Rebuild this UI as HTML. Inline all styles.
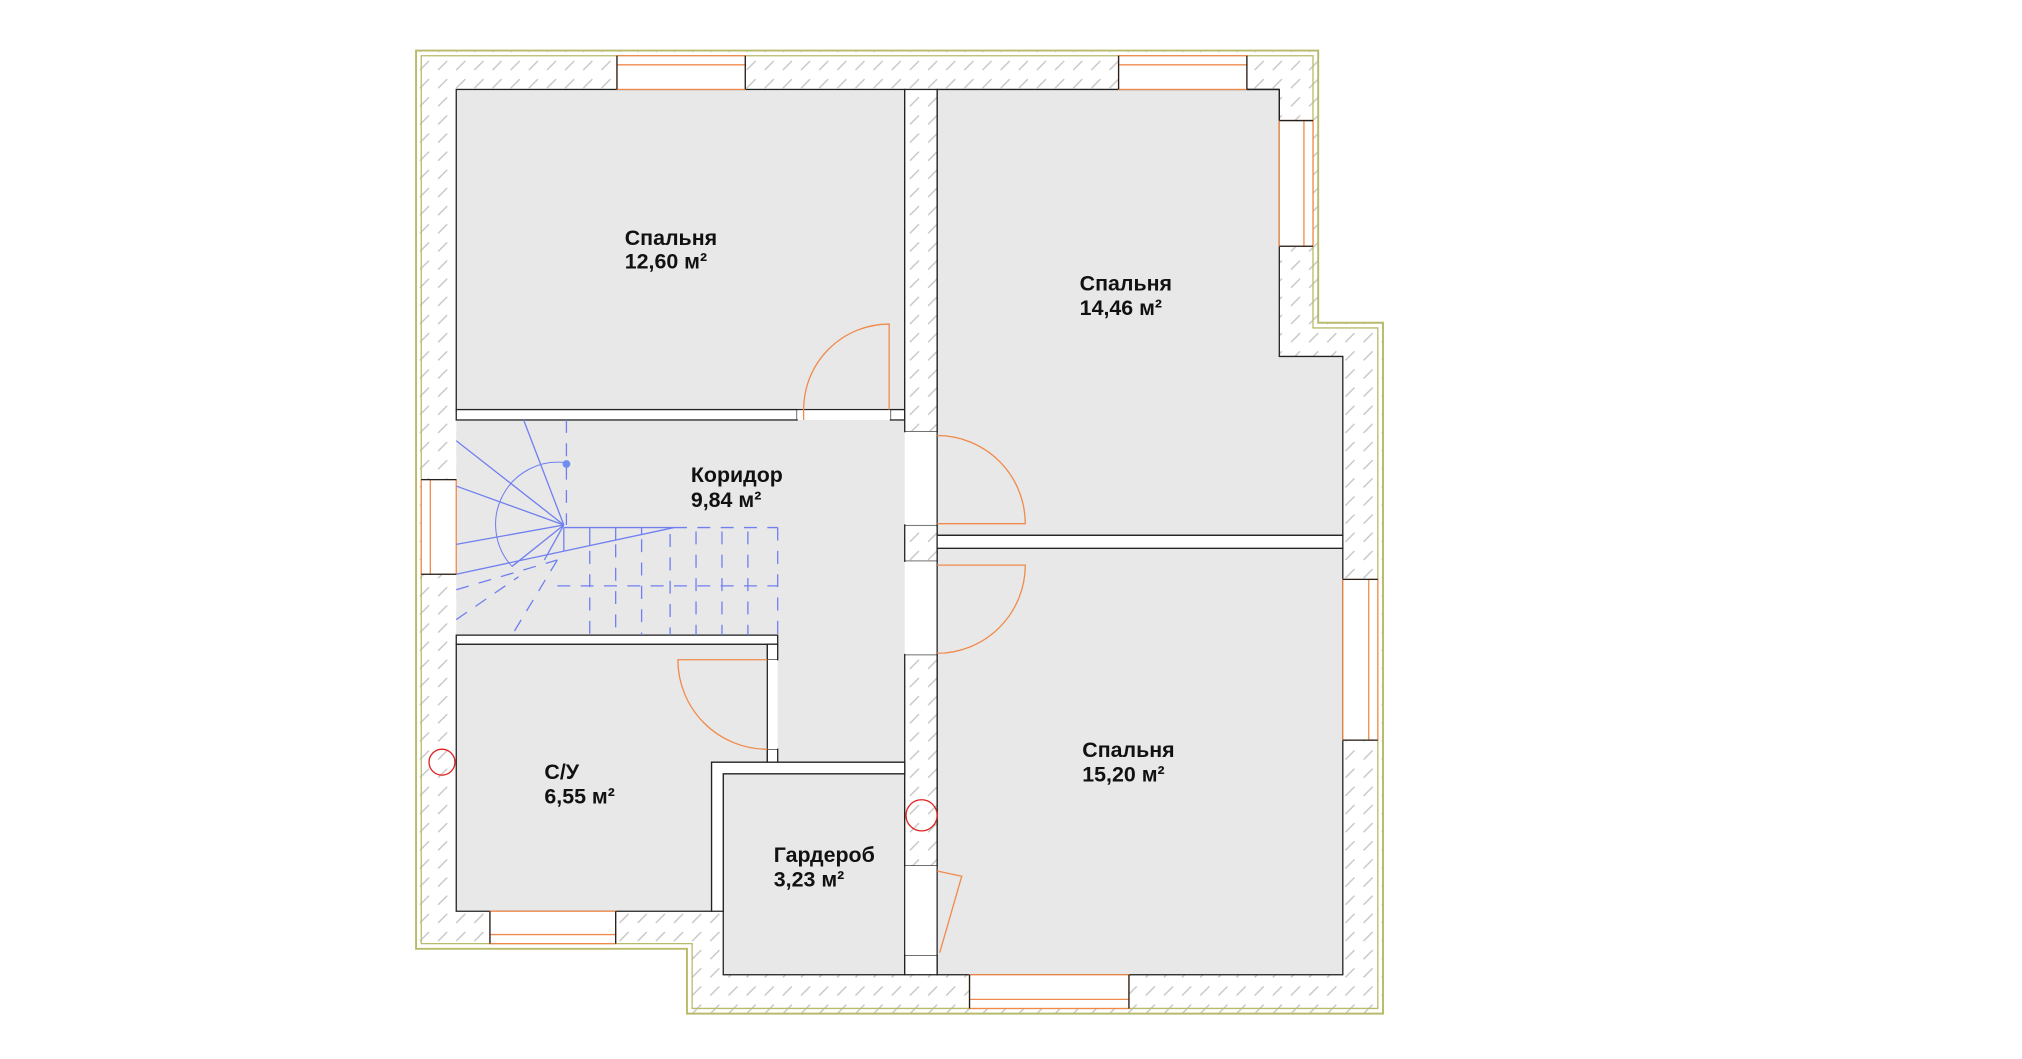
<!DOCTYPE html>
<html><head><meta charset="utf-8"><style>
html,body{margin:0;padding:0;background:#fff;}
svg{display:block;}
text{font-family:"Liberation Sans",sans-serif;font-weight:bold;font-size:16.5px;fill:#111;}
</style></head><body>
<svg width="2022" height="1059" viewBox="0 0 1560 817" preserveAspectRatio="none" xmlns="http://www.w3.org/2000/svg">
<defs>
<pattern id="h" width="14" height="14" patternUnits="userSpaceOnUse">
<rect width="14" height="14" fill="#fff"/><line x1="2" y1="12" x2="9" y2="5" stroke="#c4c4c4" stroke-width="1"/>
</pattern>
</defs>
<polygon points="321,39 1017,39 1017,249 1067,249 1067,782 530,782 530,732 321,732" fill="url(#h)" stroke="#b8bb6a" stroke-width="1.5"/>
<polygon points="325,43 1013,43 1013,253 1063,253 1063,778 534,778 534,728 325,728" fill="none" stroke="#b8bb6a" stroke-width="1"/>
<g fill="#e8e8e8" stroke="#222" stroke-width="1">
<rect x="352" y="69" width="346" height="247"/>
<polygon points="723,69 987,69 987,275 1036,275 1036,413 723,413"/>
<rect x="723" y="423" width="313" height="329"/>
<polygon points="352,497 592,497 592,588 549,588 549,703 352,703"/>
<rect x="558" y="597" width="140" height="155"/>
<polygon points="352,324 698,324 698,588 600,588 600,490 352,490" stroke="none"/>
</g>
<g fill="#fff" stroke="#222" stroke-width="1">
<rect x="352" y="316" width="263" height="8"/>
<rect x="687" y="316" width="11" height="8"/>
<rect x="698" y="69" width="25" height="264" fill="url(#h)"/>
<rect x="698" y="405" width="25" height="28" fill="url(#h)"/>
<rect x="698" y="505" width="25" height="163" fill="url(#h)"/>
<rect x="698" y="737" width="25" height="15"/>
<rect x="723" y="413" width="313" height="10"/>
<rect x="352" y="490" width="248" height="7"/>
<rect x="592" y="497" width="8" height="12"/>
<rect x="592" y="578" width="8" height="10"/>
<polygon points="549,588 698,588 698,597 558,597 558,703 549,703"/>
</g>
<g fill="#fff">
<rect x="615" y="316.5" width="72" height="7"/>
<rect x="698.5" y="333" width="24" height="72"/>
<rect x="698.5" y="433" width="24" height="72"/>
<rect x="698.5" y="668" width="24" height="69"/>
<rect x="592.5" y="509" width="7" height="69"/>
</g>
<g fill="#fff" stroke="#f08a4b" stroke-width="1">
<rect x="476" y="43" width="99" height="26"/><line x1="476" y1="50" x2="575" y2="50"/>
<rect x="863" y="43" width="99" height="26"/><line x1="863" y1="50" x2="962" y2="50"/>
<rect x="987" y="93" width="26" height="97"/><line x1="1006" y1="93" x2="1006" y2="190"/>
<rect x="325" y="370" width="27" height="73"/><line x1="332" y1="370" x2="332" y2="443"/>
<rect x="1036" y="447" width="27" height="124"/><line x1="1056" y1="447" x2="1056" y2="571"/>
<rect x="378" y="703" width="97" height="25"/><line x1="378" y1="721" x2="475" y2="721"/>
<rect x="748" y="752" width="123" height="26"/><line x1="748" y1="771" x2="871" y2="771"/>
</g>
<g stroke="#222" stroke-width="1" fill="none">
<line x1="476" y1="43" x2="476" y2="69"/><line x1="575" y1="43" x2="575" y2="69"/>
<line x1="863" y1="43" x2="863" y2="69"/><line x1="962" y1="43" x2="962" y2="69"/>
<line x1="962" y1="69" x2="987" y2="69"/><line x1="987" y1="69" x2="987" y2="93"/>
<polyline points="1013,93 987,93"/><polyline points="987,190 1013,190"/>
<line x1="325" y1="370" x2="352" y2="370"/><line x1="325" y1="443" x2="352" y2="443"/>
<line x1="1036" y1="447" x2="1063" y2="447"/><line x1="1036" y1="571" x2="1063" y2="571"/>
<line x1="378" y1="703" x2="378" y2="728"/><line x1="475" y1="703" x2="475" y2="728"/>
<line x1="748" y1="752" x2="748" y2="778"/><line x1="871" y1="752" x2="871" y2="778"/>
</g>
<g fill="none" stroke="#f08a4b" stroke-width="1">
<path d="M620,324 L620,316 A66,66 0 0 1 686,250 L686,316"/>
<path d="M723,336 A68,68 0 0 1 791,404 L723,404"/>
<path d="M723,436 L791,436 A68,68 0 0 1 723,504"/>
<path d="M592,509 L523,509 A69,69 0 0 0 592,578"/>
<path d="M723,672 L742,676 L725,735"/>
</g>
<g stroke="#6f7ff0" stroke-width="1" fill="none">
<line x1="435" y1="405" x2="404" y2="324"/>
<line x1="435" y1="405" x2="352" y2="340"/>
<line x1="435" y1="405" x2="352" y2="375"/>
<line x1="435" y1="405" x2="352" y2="420"/>
<line x1="435" y1="405" x2="395" y2="437"/>
<line x1="435" y1="405" x2="420" y2="432"/>
<line x1="352" y1="443" x2="520" y2="407"/>
<line x1="435" y1="407" x2="520" y2="407"/>
<line x1="435" y1="407" x2="435" y2="425"/><line x1="455" y1="407" x2="455" y2="421"/><line x1="475" y1="407" x2="475" y2="417"/><line x1="495" y1="407" x2="495" y2="412"/>
<path d="M437,357 A48,48 0 0 0 395,437" stroke-width="0.8"/>
<g stroke-dasharray="10 8">
<line x1="437" y1="324" x2="437" y2="405"/>
<line x1="352" y1="455" x2="430" y2="432"/>
<line x1="520" y1="407" x2="600" y2="407"/>
<line x1="600" y1="407" x2="600" y2="490"/>
<line x1="430" y1="452" x2="600" y2="452"/>
<line x1="455" y1="425" x2="455" y2="490"/><line x1="475" y1="420" x2="475" y2="490"/><line x1="495" y1="416" x2="495" y2="490"/>
<line x1="517" y1="412" x2="517" y2="490"/><line x1="537" y1="410" x2="537" y2="490"/><line x1="557" y1="410" x2="557" y2="490"/><line x1="577" y1="410" x2="577" y2="490"/>
<line x1="430" y1="432" x2="395" y2="490"/>
<line x1="352" y1="478" x2="400" y2="445"/>
</g>
</g>
<circle cx="437" cy="358" r="3" fill="#6f8ff0"/>
<circle cx="341" cy="588" r="10" fill="none" stroke="#e02020"/>
<circle cx="711" cy="629" r="12" fill="none" stroke="#e02020"/>
<text x="482" y="189">Спальня</text><text x="482" y="207">12,60 м²</text>
<text x="833" y="224">Спальня</text><text x="833" y="243">14,46 м²</text>
<text x="533" y="372">Коридор</text><text x="533" y="391">9,84 м²</text>
<text x="835" y="584">Спальня</text><text x="835" y="603">15,20 м²</text>
<text x="420" y="601">С/У</text><text x="420" y="620">6,55 м²</text>
<text x="597" y="665">Гардероб</text><text x="597" y="684">3,23 м²</text>
</svg>
</body></html>
